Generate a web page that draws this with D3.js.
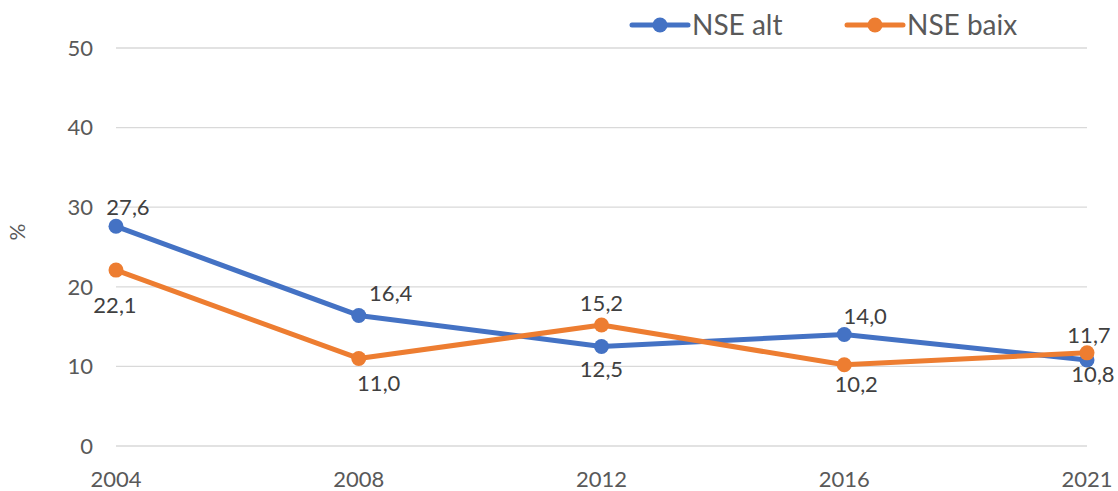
<!DOCTYPE html>
<html>
<head>
<meta charset="utf-8">
<script src="https://cdn.jsdelivr.net/npm/d3@7"></script>
<style>
  html, body { margin: 0; padding: 0; background: #fff; }
  svg { display: block; font-family: Lato, "Open Sans", sans-serif; }
</style>
</head>
<body>
<svg id="chart" width="1118" height="491"></svg>
<script>
// Survey years (x categories)
const years = ["2004", "2008", "2012", "2016", "2021"];
// Percentages by socioeconomic level
const nseAlt  = [27.6, 16.4, 12.5, 14.0, 10.8];
const nseBaix = [22.1, 11.0, 15.2, 10.2, 11.7];
const seriesNames = ["NSE alt", "NSE baix"];
const yTicks = [0, 10, 20, 30, 40, 50];

// Label placement (offset from each point, px)
const altLabelOffset  = [[12, -11], [32, -14], [0, 30], [21, -11], [6, 22]];
const baixLabelOffset = [[-1, 43], [20, 33], [0, -14], [12, 27], [2, -10]];

const colors = ["#4472C4", "#ED7D31"];
const svg = d3.select("#chart");

const x = d3.scalePoint().domain(years).range([116, 1087]);
const y = d3.scaleLinear().domain([0, 50]).range([446, 48]);

// Gridlines
svg.append("g")
  .selectAll("line")
  .data(yTicks)
  .join("line")
  .attr("x1", 116).attr("x2", 1087)
  .attr("y1", d => y(d)).attr("y2", d => y(d))
  .attr("stroke", "#d9d9d9").attr("stroke-width", 1.3);

// Y axis labels
svg.append("g")
  .selectAll("text")
  .data(yTicks)
  .join("text")
  .attr("x", 93).attr("y", d => y(d))
  .attr("dy", "0.35em")
  .attr("text-anchor", "end")
  .attr("font-size", 22)
  .attr("fill", "#595959")
  .text(d => d);

// X axis labels
svg.append("g")
  .selectAll("text")
  .data(years)
  .join("text")
  .attr("x", d => x(d)).attr("y", 487)
  .attr("text-anchor", "middle")
  .attr("font-size", 22)
  .attr("fill", "#595959")
  .text(d => d);

// Y axis title
svg.append("text")
  .attr("transform", "translate(25,232) rotate(-90)")
  .attr("text-anchor", "middle")
  .attr("font-size", 21)
  .attr("fill", "#595959")
  .text("%");

const series = [
  { name: seriesNames[0], values: nseAlt, offsets: altLabelOffset, color: colors[0] },
  { name: seriesNames[1], values: nseBaix, offsets: baixLabelOffset, color: colors[1] }
];

const line = d3.line()
  .x((d, i) => x(years[i]))
  .y(d => y(d));

series.forEach(s => {
  const g = svg.append("g");
  g.append("path")
    .datum(s.values)
    .attr("d", line)
    .attr("fill", "none")
    .attr("stroke", s.color)
    .attr("stroke-width", 5)
    .attr("stroke-linejoin", "round")
    .attr("stroke-linecap", "round");
  g.selectAll("circle")
    .data(s.values)
    .join("circle")
    .attr("cx", (d, i) => x(years[i]))
    .attr("cy", d => y(d))
    .attr("r", 7.5)
    .attr("fill", s.color);
});

// Data labels
series.forEach(s => {
  svg.append("g")
    .selectAll("text")
    .data(s.values)
    .join("text")
    .attr("x", (d, i) => x(years[i]) + s.offsets[i][0])
    .attr("y", (d, i) => y(d) + s.offsets[i][1])
    .attr("text-anchor", "middle")
    .attr("font-size", 22)
    .attr("fill", "#404040")
    .text(d => d3.format(".1f")(d).replace(".", ","));
});

// Legend
const legendX = [632, 847];
const legend = svg.append("g");
series.forEach((s, i) => {
  const lg = legend.append("g").attr("transform", `translate(${legendX[i]},25)`);
  lg.append("line")
    .attr("x1", 0).attr("x2", 56)
    .attr("stroke", s.color).attr("stroke-width", 5)
    .attr("stroke-linecap", "round");
  lg.append("circle").attr("cx", 28).attr("r", 7.5).attr("fill", s.color);
  lg.append("text")
    .attr("x", 60).attr("dy", "0.35em")
    .attr("font-size", 28)
    .attr("fill", "#595959")
    .text(s.name);
});
</script>
</body>
</html>
